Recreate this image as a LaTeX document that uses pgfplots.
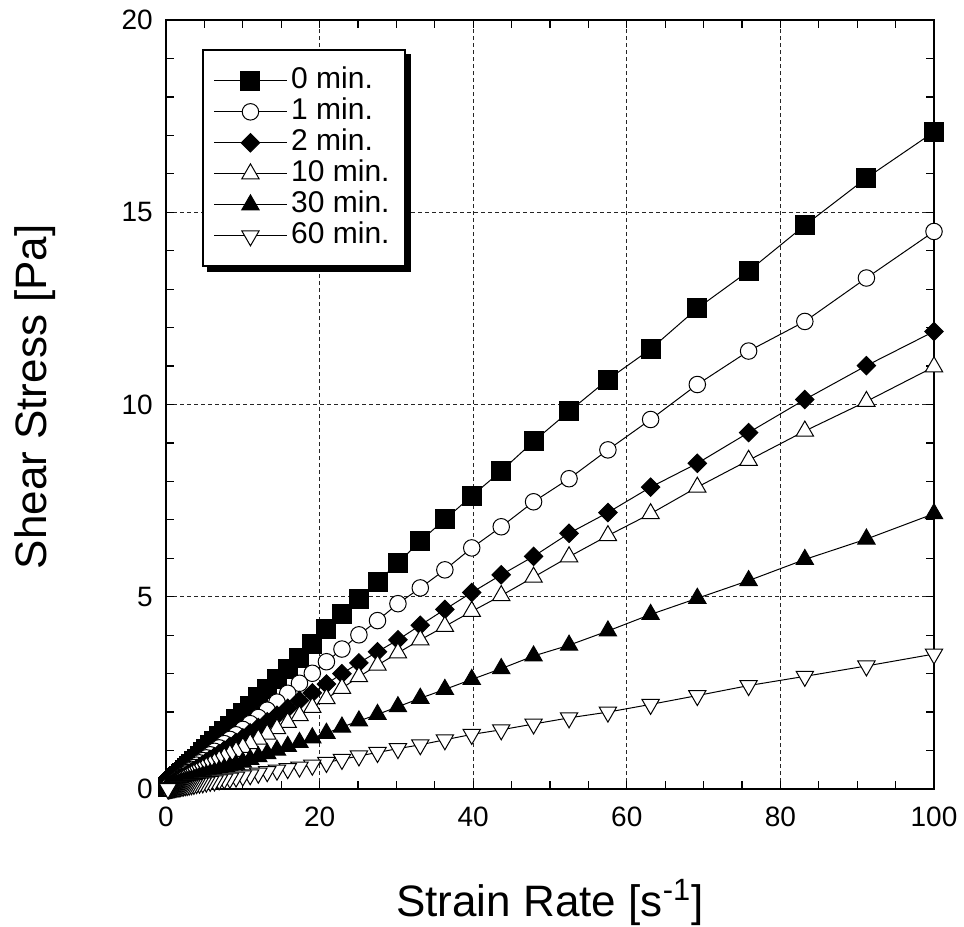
\documentclass[border=0pt]{standalone}
\usepackage{fontspec}
\setmainfont{Liberation Sans}
\usepackage{pgfplots}
\usepackage{pgfplotstable}
\pgfplotsset{compat=1.18}

% strain rate, then shear stress for 0, 1, 2, 10, 30, 60 min
\pgfplotstableread{
x      a     b     c     d     e     f
100    17.09 14.50 11.90 10.98 7.16 3.51
91.20  15.89 13.29 11.01 10.08 6.50 3.20
83.18  14.66 12.16 10.13 9.31  5.97 2.93
75.86  13.47 11.39 9.27  8.55  5.42 2.69
69.18  12.50 10.52 8.47  7.85  4.96 2.43
63.10  11.44 9.61  7.85  7.16  4.54 2.20
57.54  10.65 8.82  7.19  6.59  4.11 2.00
52.48  9.82  8.07  6.65  6.04  3.74 1.85
47.86  9.04  7.47  6.05  5.51  3.46 1.69
43.65  8.27  6.82  5.57  5.03  3.13 1.54
39.81  7.62  6.27  5.11  4.62  2.85 1.42
36.31  7.01  5.70  4.67  4.23  2.59 1.28
33.11  6.45  5.23  4.26  3.88  2.36 1.15
30.20  5.88  4.82  3.88  3.54  2.14 1.05
27.54  5.39  4.38  3.57  3.22  1.94 0.95
25.12  4.95  4.01  3.28  2.92  1.77 0.86
22.91  4.55  3.64  3.00  2.62  1.61 0.77
20.89  4.16  3.31  2.73  2.35  1.45 0.69
19.05  3.77  3.01  2.50  2.12  1.33 0.62
17.38  3.42  2.75  2.30  1.91  1.21 0.57
15.85  3.12  2.49  2.10  1.73  1.11 0.53
14.45  2.86  2.26  1.92  1.57  1.01 0.49
13.18  2.61  2.05  1.75  1.43  0.92 0.45
12.02  2.38  1.86  1.60  1.30  0.84 0.41
10.96  2.17  1.70  1.46  1.18  0.77 0.37
10.00  1.98  1.55  1.33  1.08  0.70 0.34
9.120  1.81  1.41  1.21  0.98  0.64 0.31
8.318  1.65  1.29  1.11  0.90  0.58 0.28
7.586  1.50  1.18  1.01  0.82  0.53 0.26
6.918  1.37  1.07  0.92  0.75  0.48 0.24
6.310  1.25  0.98  0.84  0.68  0.44 0.21
5.754  1.14  0.89  0.77  0.62  0.40 0.20
5.248  1.04  0.81  0.70  0.57  0.37 0.18
4.786  0.95  0.74  0.64  0.52  0.34 0.16
4.365  0.86  0.68  0.58  0.47  0.31 0.15
3.981  0.79  0.62  0.53  0.43  0.28 0.14
3.631  0.72  0.56  0.48  0.39  0.25 0.12
3.311  0.66  0.51  0.44  0.36  0.23 0.11
3.020  0.60  0.47  0.40  0.33  0.21 0.10
2.754  0.55  0.43  0.37  0.30  0.19 0.09
2.512  0.50  0.39  0.33  0.27  0.18 0.085
2.291  0.45  0.36  0.30  0.25  0.16 0.078
2.089  0.41  0.32  0.28  0.23  0.15 0.071
1.905  0.38  0.30  0.25  0.21  0.13 0.065
1.738  0.34  0.27  0.23  0.19  0.12 0.059
1.585  0.31  0.25  0.21  0.17  0.11 0.054
1.445  0.29  0.22  0.19  0.16  0.10 0.049
1.318  0.26  0.20  0.18  0.14  0.09 0.045
1.202  0.24  0.19  0.16  0.13  0.08 0.041
1.096  0.22  0.17  0.15  0.12  0.08 0.037
1.000  0.20  0.16  0.13  0.11  0.07 0.034
0.912  0.18  0.14  0.12  0.10  0.064 0.031
0.832  0.16  0.13  0.11  0.09  0.058 0.028
0.759  0.15  0.12  0.10  0.08  0.053 0.026
0.692  0.14  0.11  0.09  0.075 0.048 0.024
0.631  0.12  0.10  0.084 0.068 0.044 0.021
0.575  0.11  0.089 0.076 0.062 0.040 0.020
0.525  0.10  0.081 0.070 0.057 0.037 0.018
0.479  0.095 0.074 0.064 0.052 0.034 0.016
0.437  0.087 0.068 0.058 0.047 0.031 0.015
0.398  0.079 0.062 0.053 0.043 0.028 0.014
0.363  0.072 0.056 0.048 0.039 0.025 0.012
0.331  0.066 0.051 0.044 0.036 0.023 0.011
0.302  0.060 0.047 0.040 0.033 0.021 0.010
0.275  0.055 0.043 0.037 0.030 0.019 0.009
0.251  0.050 0.039 0.033 0.027 0.018 0.009
}\datatable

\begin{document}
\begin{tikzpicture}
\begin{axis}[
scale only axis,
width=307.2pt,
height=307.6pt,
xmin=0, xmax=100,
ymin=0, ymax=20,
xtick={0,20,...,100},
ytick={0,5,...,20},
minor x tick num=3,
minor y tick num=4,
tick align=inside,
major tick length=3.2pt,
minor tick length=3.2pt,
tick style={black, line width=0.5pt},
grid=major,
major grid style={black!85, line width=0.4pt, dash pattern=on 1.6pt off 1.2pt},
axis line style={line width=0.7pt},
/pgf/number format/assume math mode=true,
ticklabel style={font=\fontsize{11.2}{13}\selectfont},
yticklabel style={xshift=-1.8pt},
xticklabel style={yshift=-3.5pt},
xlabel={Strain Rate [s\textsuperscript{-1}]},
ylabel={Shear Stress [Pa]},
label style={font=\fontsize{17.6}{20}\selectfont},
xlabel style={at={(axis description cs:0.5,0)}, anchor=base, yshift=-51pt},
ylabel style={at={(axis description cs:-0.155,0.51)}, anchor=base, rotate=0},
legend cell align=left,
legend image code/.code={\draw[line width=0.4pt, mark repeat=2, mark phase=2] plot coordinates {(0pt,0pt) (14.5pt,0pt) (29pt,0pt)};},
legend style={name=leg, at={(axis description cs:0.0465,0.962)}, anchor=north west,
  draw=black, line width=0.8pt, fill=white,
  font=\fontsize{12}{14}\selectfont,
  inner xsep=4.4pt, inner ysep=7pt, row sep=1.9pt,
  nodes={inner xsep=1.6pt, inner ysep=0pt, text height=8.3pt, text depth=2.2pt}},
every axis plot/.append style={black, line width=0.4pt},
]
\addplot[mark=square*, mark size=3.8pt, mark options={fill=black, line width=0.4pt}] table[x=x, y=a] {\datatable};
\addlegendentry{0 min.}
\addplot[mark=*, mark size=3.3pt, mark options={fill=white, line width=0.4pt}] table[x=x, y=b] {\datatable};
\addlegendentry{1 min.}
\addplot[mark=square*, mark size=2.6pt, mark options={rotate=45, fill=black, line width=0.4pt}] table[x=x, y=c] {\datatable};
\addlegendentry{2 min.}
\addplot[mark=triangle*, mark size=4pt, mark options={fill=white, line width=0.4pt}] table[x=x, y=d] {\datatable};
\addlegendentry{10 min.}
\addplot[mark=triangle*, mark size=4pt, mark options={fill=black, line width=0.4pt}] table[x=x, y=e] {\datatable};
\addlegendentry{30 min.}
\addplot[mark=triangle*, mark size=4pt, mark options={rotate=180, fill=white, line width=0.4pt}] table[x=x, y=f] {\datatable};
\addlegendentry{60 min.}
\end{axis}
% legend shadow
\fill[black] ([yshift=-2pt]leg.north east) rectangle ([xshift=2pt, yshift=-2pt]leg.south east);
\fill[black] ([xshift=2pt, yshift=-2pt]leg.south west) rectangle ([xshift=2pt]leg.south east);
\pgfresetboundingbox
\path[use as bounding box] ([xshift=-66.4pt, yshift=-54.8pt]current axis.south west) rectangle ([xshift=12pt, yshift=8pt]current axis.north east);
\end{tikzpicture}
\end{document}
